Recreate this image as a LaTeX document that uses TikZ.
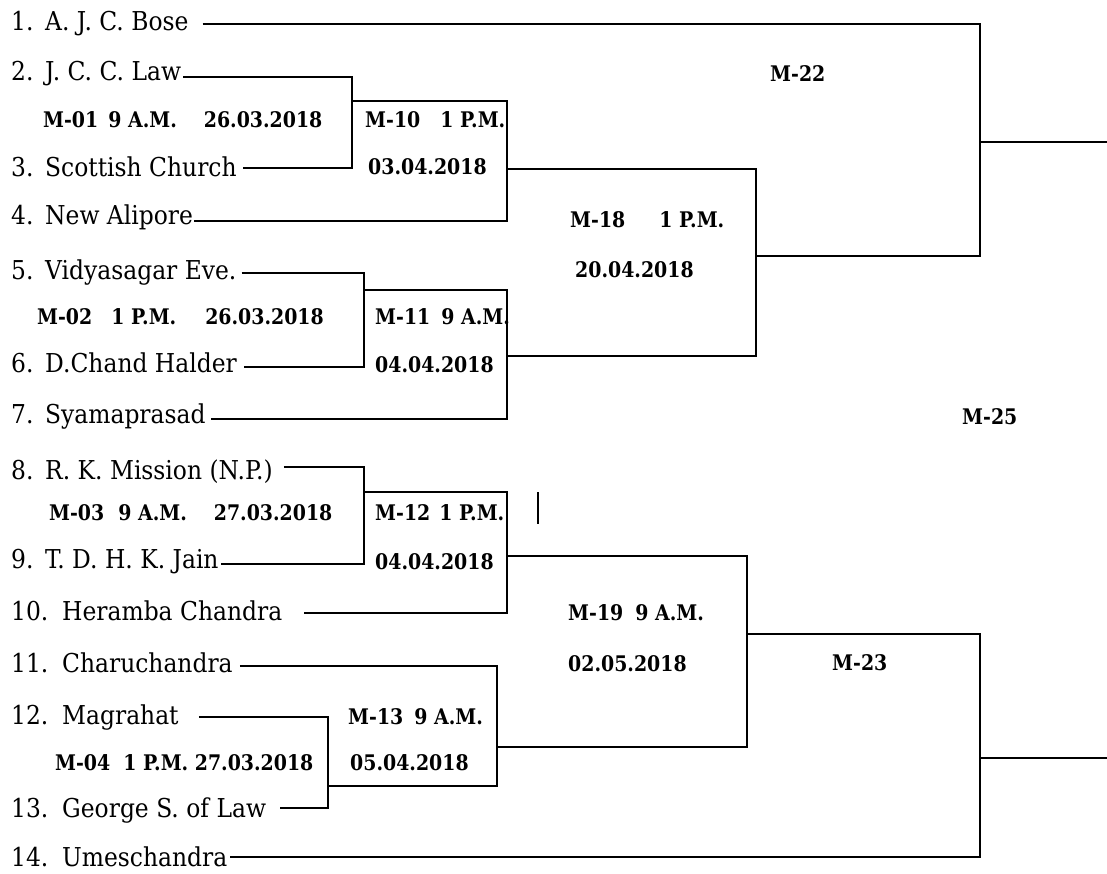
\documentclass[tikz,border=0pt]{standalone}
\usepackage{fontspec}
\setmainfont{DejaVu Serif}
\newfontfamily\teamfont{DejaVu Serif}[FakeStretch=0.9]
\newfontfamily\infofont{DejaVu Serif}[FakeStretch=0.88]

\tikzset{
  team/.style={anchor=base west, inner sep=0pt, font=\teamfont\fontsize{26}{30}\selectfont},
  info/.style={anchor=west, inner sep=0pt, font=\infofont\fontsize{21.5}{25}\selectfont\bfseries},
  tie/.style={line width=1.2pt},
}
\newcommand{\nr}[1]{\makebox[34pt][l]{#1}}
\newcommand{\nrr}[1]{\makebox[51pt][l]{#1}}

\begin{document}
\begin{tikzpicture}[x=1pt,y=-1pt]
  \useasboundingbox (0,0) rectangle (1107,873);

  % Teams (placed on their baselines)
  \node[team] (t1) at (11,30) {\nr{1.}A. J. C. Bose};
  \node[team] (t2) at (11,80) {\nr{2.}J. C. C. Law};
  \node[team] (t3) at (11,176) {\nr{3.}Scottish Church};
  \node[team] (t4) at (11,224) {\nr{4.}New Alipore};
  \node[team] (t5) at (11,279) {\nr{5.}Vidyasagar Eve.};
  \node[team] (t6) at (11,372) {\nr{6.}D.Chand Halder};
  \node[team] (t7) at (11,423) {\nr{7.}Syamaprasad};
  \node[team] (t8) at (11,479) {\nr{8.}R. K. Mission (N.P.)};
  \node[team] (t9) at (11,568) {\nr{9.}T. D. H. K. Jain};
  \node[team] (t10) at (11,620) {\nrr{10.}Heramba Chandra};
  \node[team] (t11) at (11,672) {\nrr{11.}Charuchandra};
  \node[team] (t12) at (11,724) {\nrr{12.}Magrahat};
  \node[team] (t13) at (11,817) {\nrr{13.}George S. of Law};
  \node[team] (t14) at (11,866) {\nrr{14.}Umeschandra};

  % Match labels
  \node[info] (l01) at (43,120) {M-01\hspace{10pt}9 A.M.\hspace{27pt}26.03.2018};
  \node[info] (l10) at (365,120) {M-10\hspace{20pt}1 P.M.};
  \node[info] (d10) at (368,167) {03.04.2018};
  \node[info] (l02) at (37,317) {M-02\hspace{19pt}1 P.M.\hspace{29pt}26.03.2018};
  \node[info] (l11) at (375,317) {M-11\hspace{11pt}9 A.M.};
  \node[info] (d11) at (375,365) {04.04.2018};
  \node[info] (l03) at (49,513) {M-03\hspace{14pt}9 A.M.\hspace{27pt}27.03.2018};
  \node[info] (l12) at (375,513) {M-12\hspace{9pt}1 P.M.};
  \node[info] (d12) at (375,562) {04.04.2018};
  \node[info] (l04) at (55,763) {M-04\hspace{13pt}1 P.M. 27.03.2018};
  \node[info] (l13) at (348,717) {M-13\hspace{11pt}9 A.M.};
  \node[info] (d13) at (350,763) {05.04.2018};
  \node[info] (l18) at (570,220) {M-18\hspace{34pt}1 P.M.};
  \node[info] (d18) at (575,270) {20.04.2018};
  \node[info] (l19) at (568,613) {M-19\hspace{12pt}9 A.M.};
  \node[info] (d19) at (568,664) {02.05.2018};
  \node[info] (l22) at (770,74) {M-22};
  \node[info] (l23) at (832,663) {M-23};
  \node[info] (l25) at (962,417) {M-25};

  % Bracket corners
  \coordinate (m01) at (352,101);
  \coordinate (m10) at (507,169);
  \coordinate (m02) at (364,290);
  \coordinate (m11) at (507,356);
  \coordinate (m18) at (756,256);
  \coordinate (m22) at (980,142);
  \coordinate (m03) at (364,492);
  \coordinate (m12) at (507,556);
  \coordinate (m04) at (328,786);
  \coordinate (m13) at (497,747);
  \coordinate (m19) at (747,634);
  \coordinate (m23) at (980,758);
  \coordinate (f22) at (1107,142);
  \coordinate (f23) at (1107,758);

  % Upper half
  \draw[tie] ([xshift=2pt,yshift=3pt]t2.base east) -| (m01) |- ([xshift=6pt,yshift=8pt]t3.base east);
  \draw[tie] (m01) -| (m10) |- ([xshift=1pt,yshift=3pt]t4.base east);
  \draw[tie] ([xshift=5pt,yshift=6pt]t5.base east) -| (m02) |- ([xshift=7pt,yshift=5pt]t6.base east);
  \draw[tie] (m02) -| (m11) |- ([xshift=5pt,yshift=4pt]t7.base east);
  \draw[tie] (m10) -| (m18) |- (m11);
  \draw[tie] ([xshift=14pt,yshift=6pt]t1.base east) -| (m22) |- (m18);
  \draw[tie] (m22) -- (f22);

  % Lower half
  \draw[tie] ([xshift=11pt,yshift=12pt]t8.base east) -| (m03) |- ([xshift=2pt,yshift=4pt]t9.base east);
  \draw[tie] (m03) -| (m12) |- ([xshift=22pt,yshift=7pt]t10.base east);
  \draw[tie] ([xshift=20pt,yshift=7pt]t12.base east) -| (m04) |- ([xshift=14pt,yshift=9pt]t13.base east);
  \draw[tie] ([xshift=7pt,yshift=6pt]t11.base east) -| (m13) |- (m04);
  \draw[tie] (m12) -| (m19) |- (m13);
  \draw[tie] (m19) -| (m23) |- ([xshift=3pt,yshift=9pt]t14.base east);
  \draw[tie] (m23) -- (f23);
  \draw[tie] (538,492) -- (538,524);
\end{tikzpicture}
\end{document}
